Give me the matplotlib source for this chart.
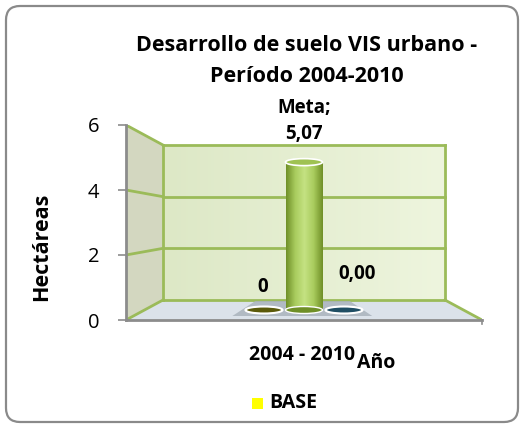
import matplotlib
matplotlib.use("Agg")
import matplotlib.pyplot as plt
import numpy as np
from matplotlib.patches import Polygon, Ellipse, FancyBboxPatch, Rectangle
from matplotlib.colors import LinearSegmentedColormap

# ---- data ----
title_lines = ["Desarrollo de suelo VIS urbano -", "Período 2004-2010"]
category = "2004 - 2010"
series_names = ["BASE", "Meta", "Serie3"]
series_values = [0, 5.07, 0.00]
value_labels = ["0", "Meta;\n5,07", "0,00"]
yticks = [0, 2, 4, 6]
ylabel = "Hectáreas"
xlabel = "Año"

plt.rcParams['font.family'] = ['Open Sans', 'DejaVu Sans']

W, H = 524, 428
fig = plt.figure(figsize=(W / 100, H / 100), dpi=100)

# background frame (figure pixel coords)
bg = fig.add_axes([0, 0, 1, 1])
bg.set_xlim(0, W); bg.set_ylim(H, 0); bg.axis('off')
bg.add_patch(FancyBboxPatch((6, 6), W - 12, H - 12, boxstyle="round,pad=0,rounding_size=14",
                            fc='white', ec='#8a8a8a', lw=1.6))

# geometry of pseudo-3D
FX0, FX1, FY0, FS = 126, 482, 320, 32.5   # front plane
BX0, BX1, BY0, BS = 163, 445, 300, 25.83  # back plane
ytop_px = FY0 - 6 * FS

ax = fig.add_axes([FX0 / W, (H - FY0) / H, (FX1 - FX0) / W, (FY0 - ytop_px) / H])
ax.set_xlim(FX0, FX1)
ax.set_ylim(0, 6)
ax.patch.set_alpha(0)
for s in ['top', 'right', 'bottom']:
    ax.spines[s].set_visible(False)
ax.spines['left'].set_color('#8c8c8c'); ax.spines['left'].set_linewidth(2)
ax.set_xticks([])
ax.set_yticks(yticks)
ax.set_yticklabels([str(t) for t in yticks], fontsize=14.5)
ax.tick_params(axis='y', length=6, width=1.2, color='#8c8c8c', pad=13)


def P(u, v, d):
    x = (FX0 + u * (FX1 - FX0)) * (1 - d) + (BX0 + u * (BX1 - BX0)) * d
    ypix = FY0 * (1 - d) + BY0 * d - v * (FS * (1 - d) + BS * d)
    return x, (FY0 - ypix) / FS


G = '#9bbb59'
# side wall
ax.add_patch(Polygon([P(0, 0, 0), P(0, 6, 0), P(0, 6, 1), P(0, 0, 1)], closed=True,
                     fc='#d3d7c0', ec='none', zorder=1))
# back wall with gradient
bx0, by0 = P(0, 0, 1); bx1, by1 = P(1, 6, 1)
grad = np.linspace(0, 1, 100)[None, :]
cm_wall = LinearSegmentedColormap.from_list('w', ['#dde8c6', '#eef5de'])
ax.imshow(grad, extent=[bx0, bx1, by0, by1], cmap=cm_wall, aspect='auto', zorder=1)
# floor
ax.add_patch(Polygon([P(0, 0, 0), P(0, 0, 1), P(1, 0, 1), P(1, 0, 0)], closed=True,
                     fc='#dbe2ea', ec='none', zorder=1))
# grid lines
for v in yticks:
    xa, ya = P(0, v, 0); xb, yb = P(0, v, 1); xc, yc = P(1, v, 1)
    if v > 0:
        ax.plot([xa, xb], [ya, yb], color=G, lw=2, zorder=2)
    ax.plot([xb, xc], [yb, yc], color=G, lw=2, zorder=2)
for u in [0, 1]:
    xa, ya = P(u, 0, 1); xb, yb = P(u, 6, 1)
    ax.plot([xa, xb], [ya, yb], color=G, lw=2, zorder=2)
# floor side edges
for u in [0, 1]:
    xa, ya = P(u, 0, 0); xb, yb = P(u, 0, 1)
    ax.plot([xa, xb], [ya, yb], color=G, lw=2, zorder=2)
# front floor edge (category axis line)
ax.plot([FX0, FX1], [0, 0], color='#8c8c8c', lw=2, zorder=3, clip_on=False)
ax.plot([FX1, FX1], [0, -0.12], color='#8c8c8c', lw=1.2, zorder=3, clip_on=False)

# shadow under bars
d = 0.5
ax.add_patch(Polygon([P(0.29, 0, 0.2), P(0.70, 0, 0.2), P(0.66, 0, 0.95), P(0.33, 0, 0.95)],
                     closed=True, fc='#aab3bd', ec='none', alpha=0.85, zorder=3))

# bars (cylinders)
offsets = [-1, 0, 1]
bar_w = 40
colors_dark = ['#5b5a0a', '#6f8f27', '#1f4e64']
colors_light = ['#8a8a20', '#a9cc5e', '#3d7190']
cx_mid, _ = P(0.5, 0, d)
ell_h = 7 / FS
for i, (val, off) in enumerate(zip(series_values, offsets)):
    cx = cx_mid + off * bar_w
    _, yb = P(0.5, 0, d)
    _, yt = P(0.5, val, d)
    x0, x1 = cx - bar_w / 2 + 1.5, cx + bar_w / 2 - 1.5
    if val > 0:
        cmap = LinearSegmentedColormap.from_list('c', [colors_dark[i], colors_light[i], '#c4e283',
                                                       colors_light[i], colors_dark[i]])
        ax.imshow(np.linspace(0, 1, 200)[None, :], extent=[x0, x1, yb, yt],
                  cmap=cmap, aspect='auto', zorder=4)
        ax.add_patch(Ellipse((cx, yb), x1 - x0, ell_h, fc=colors_dark[i], ec='white', lw=1.0, zorder=4))
        ax.add_patch(Ellipse((cx, yt), x1 - x0, ell_h, fc='#9fc253', ec='white', lw=1.2, zorder=5))
    else:
        ax.add_patch(Ellipse((cx, yb), x1 - x0, ell_h, fc=colors_dark[i], ec='white', lw=1.5, zorder=5))

# value labels
lab_pos = [(263, 287), (304, 121), (357, 274)]
for (px, py), txt in zip(lab_pos, value_labels):
    ax.text(px, (FY0 - py) / FS, txt, ha='center', va='center', fontsize=13.5,
            fontweight='bold', linespacing=1.45, zorder=6, clip_on=False)

# title
bg.text(307, 45, title_lines[0], ha='center', va='center', fontsize=15.5, fontweight='bold')
bg.text(307, 76, title_lines[1], ha='center', va='center', fontsize=15.5, fontweight='bold')
# axis labels
bg.text(42, 247, ylabel, ha='center', va='center', rotation=90, fontsize=15.5, fontweight='bold')
bg.text(302, 355, category, ha='center', va='center', fontsize=14, fontweight='bold')
bg.text(357, 363, xlabel, ha='left', va='center', fontsize=14, fontweight='bold')
# legend
bg.add_patch(Rectangle((252, 398), 11, 11, fc='#ffff00', ec='none'))
bg.text(269, 403, series_names[0], ha='left', va='center', fontsize=14, fontweight='bold')

fig.savefig('out.png', dpi=100)
